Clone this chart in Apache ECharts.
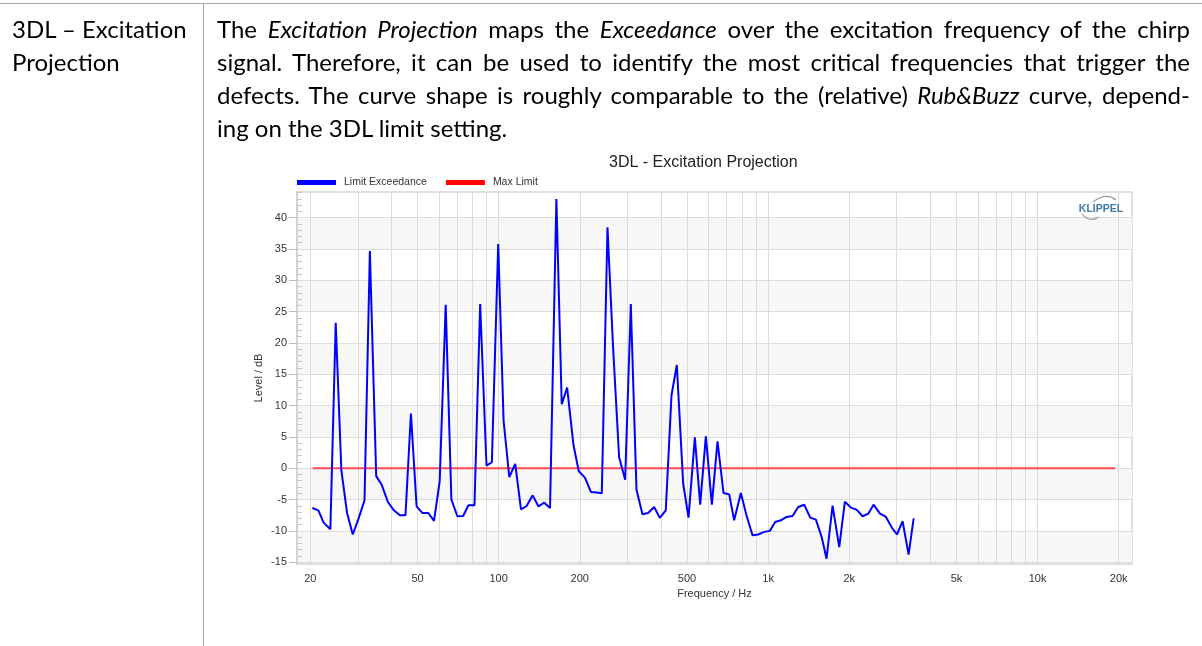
<!DOCTYPE html>
<html><head><meta charset="utf-8">
<script src="https://cdn.jsdelivr.net/npm/echarts@6/dist/echarts.min.js"></script>
<style>
html,body{margin:0;padding:0;background:#fff;}
body{width:1202px;height:646px;position:relative;overflow:hidden;}
#chart{position:absolute;left:0;top:0;width:1202px;height:646px;}
.rule{position:absolute;background:#a8a8a8;z-index:2;}
.doc{position:absolute;z-index:2;font-family:Lato,'Open Sans',sans-serif;font-size:24px;line-height:33px;color:#000;}
.jl{text-align:justify;text-align-last:justify;}
</style></head>
<body>
<div id="chart"></div>
<div class="rule" style="left:0;top:3px;width:1202px;height:1px"></div>
<div class="rule" style="left:203px;top:3px;width:1px;height:643px"></div>
<div class="doc" style="left:12px;top:12px;">3DL – Excitation<br>Projection</div>
<div class="doc" style="left:217px;top:12px;width:973px;">
<div class="jl">The <i>Excitation Projection</i> maps the <i>Exceedance</i> over the excitation frequency of the chirp</div>
<div class="jl">signal. Therefore, it can be used to identify the most critical frequencies that trigger the</div>
<div class="jl">defects. The curve shape is roughly comparable to the (relative) <i>Rub&amp;Buzz</i> curve, depend-</div>
<div>ing on the 3DL limit setting.</div>
</div>
<script>
// ---- data ----
const freqHz = [20.35, 21.42, 22.42, 23.74, 24.85, 26.08, 27.38, 28.75, 30.26, 31.78,
  33.27, 35.12, 36.76, 38.81, 40.85, 43.0, 45.1, 47.25, 49.6, 52.07,
  54.83, 57.55, 60.41, 63.6, 66.77, 70.29, 73.8, 77.24, 81.33, 85.37,
  90.12, 94.34, 99.62, 104.3, 109.5, 115.2, 121.0, 127.0, 133.7, 140.4,
  147.7, 155.1, 163.75, 171.4, 179.5, 189.5, 198.3, 209, 219.9, 230.6,
  241.4, 253.4, 265.9, 279.9, 294.7, 309.3, 324.7, 341.7, 358.7, 377.6,
  396.3, 417, 437.9, 458.3, 483.9, 506.4, 534.6, 559.5, 587.2, 618.2,
  648.8, 683, 717, 748, 792, 831, 875, 918.6, 966.8, 1014.7,
  1062, 1115, 1170, 1232, 1293, 1361, 1433, 1504, 1579, 1647,
  1734, 1836, 1927, 2029, 2129, 2241, 2353, 2462, 2600, 2737,
  2881, 3006, 3155, 3321, 3467];
const levelDb = [-6.36, -6.73, -8.69, -9.75, 23.2, -0.37, -7.15, -10.59, -7.94, -5.14,
  34.69, -1.27, -2.6, -5.4, -6.73, -7.52, -7.52, 8.74, -6.09, -7.15,
  -7.15, -8.42, -2.12, 26.11, -5.03, -7.68, -7.63, -5.93, -5.93, 26.22,
  0.42, 0.95, 35.8, 7.57, -1.43, 0.69, -6.57, -6.04, -4.34, -6.09,
  -5.51, -6.36, 42.96, 10.2, 12.87, 3.7, -0.5, -1.5, -3.8, -3.9,
  -4.0, 38.45, 19.2, 1.75, -1.85, 26.2, -3.44, -7.36, -7.15, -6.2,
  -7.94, -6.73, 11.65, 16.47, -2.49, -7.89, 4.93, -5.83, 5.08, -5.83,
  4.29, -3.97, -4.18, -8.32, -3.97, -7.52, -10.7, -10.59, -10.17, -10.01,
  -8.58, -8.32, -7.79, -7.63, -6.2, -5.83, -7.89, -8.21, -10.96, -14.45,
  -5.99, -12.6, -5.35, -6.3, -6.62, -7.68, -7.26, -5.83, -7.26, -7.79,
  -9.53, -10.59, -8.47, -13.8, -8.0];
const limitHz = [20.4, 19400];
const limitDb = [0, 0];
const xLabelHz = [20, 50, 100, 200, 500, 1000, 2000, 5000, 10000, 20000];
const xLabelText = ['20', '50', '100', '200', '500', '1k', '2k', '5k', '10k', '20k'];
const xGridHz = [20, 30, 40, 50, 60, 70, 80, 90, 100, 200, 300, 400, 500, 600, 700, 800, 900,
  1000, 2000, 3000, 4000, 5000, 6000, 7000, 8000, 9000, 10000, 20000];
const yTicks = [-15, -10, -5, 0, 5, 10, 15, 20, 25, 30, 35, 40];
const xRangeHz = [17.85, 22400];
const yRange = [-15.3, 44.1];

// ---- chart ----
const yMinor = [];
for (let v = Math.ceil(yRange[0]); v <= Math.floor(yRange[1]); v++) if (v % 5 !== 0) yMinor.push(v);
const FONT = 'Liberation Sans, Arial, sans-serif';
const lg = Math.log10;
function xLabel(v) {
  const hz = Math.pow(10, v);
  const i = xLabelHz.findIndex(h => Math.abs(h - hz) / h < 1e-6);
  return i >= 0 ? xLabelText[i] : '';
}
const chart = echarts.init(document.getElementById('chart'), null, {renderer: 'canvas'});
chart.setOption({
  animation: false,
  title: {text: '3DL - Excitation Projection', left: 604, top: 150,
    textStyle: {fontSize: 16, fontWeight: 'normal', color: '#222', fontFamily: FONT}},
  legend: {left: 292, top: 172, icon: 'rect', itemWidth: 39, itemHeight: 5, itemGap: 19,
    textStyle: {fontSize: 10.5, color: '#333', fontFamily: FONT, padding: [0, 0, 0, 3]},
    data: ['Limit Exceedance', 'Max Limit']},
  grid: {left: 297, top: 192, right: 70, bottom: 82, show: true, borderColor: '#d6d6d6', borderWidth: 1.5, containLabel: false},
  xAxis: {type: 'value', min: lg(xRangeHz[0]), max: lg(xRangeHz[1]),
    name: 'Frequency / Hz', nameLocation: 'middle', nameGap: 24, nameMoveOverlap: false,
    nameTextStyle: {fontSize: 11, color: '#333', fontFamily: FONT},
    axisLine: {show: false},
    axisTick: {show: false, customValues: xGridHz.map(lg)},
    axisLabel: {customValues: xLabelHz.map(lg), formatter: xLabel, fontSize: 11, color: '#333', fontFamily: FONT, margin: 9},
    splitLine: {show: true, lineStyle: {color: '#dcdcdc', width: 1}}},
  yAxis: [{type: 'value', min: yRange[0], max: yRange[1],
    name: 'Level / dB', nameLocation: 'middle', nameGap: 33, nameMoveOverlap: false,
    nameTextStyle: {fontSize: 11, color: '#333', fontFamily: FONT},
    axisLine: {show: true, lineStyle: {color: '#cfcfcf', width: 1.5}},
    axisTick: {show: true, length: 8, customValues: yTicks, lineStyle: {color: '#bdbdbd'}},
    axisLabel: {customValues: yTicks, fontSize: 11, color: '#333', fontFamily: FONT, margin: 10},
    splitLine: {show: true, lineStyle: {color: '#dcdcdc', width: 1}},
    splitArea: {show: true, areaStyle: {color: ['#f7f7f7', 'rgba(255,255,255,0)']}}},
   {type: 'value', min: yRange[0], max: yRange[1], position: 'left',
    axisLine: {show: false}, axisLabel: {show: false}, splitLine: {show: false},
    axisTick: {show: true, inside: true, length: 5, customValues: yMinor, lineStyle: {color: '#c4c4c4'}}}],
  series: [
    {name: 'Limit Exceedance', type: 'line', z: 3, symbol: 'none',
     data: freqHz.map((f, i) => [lg(f), levelDb[i]]),
     lineStyle: {color: '#0000ff', width: 2}, itemStyle: {color: '#0000ff'}},
    {name: 'Max Limit', type: 'line', z: 2, symbol: 'none',
     data: limitHz.map((f, i) => [lg(f), limitDb[i]]),
     lineStyle: {color: '#ff4a4a', width: 2}, itemStyle: {color: '#ff0000'}}
  ],
  graphic: [
    {type: 'text', x: 1101, y: 209, z: 10, style: {text: 'KLIPPEL', fill: '#3f7bab', align: 'center', verticalAlign: 'middle',
      font: 'bold 10.5px Liberation Sans, Arial, sans-serif'}},
    {type: 'bezierCurve', z: 10, shape: {x1: 1093, y1: 202, cpx1: 1106, cpy1: 192, x2: 1116, y2: 200},
      style: {stroke: '#9a9a9a', lineWidth: 1.2, fill: null}},
    {type: 'bezierCurve', z: 10, shape: {x1: 1082, y1: 214, cpx1: 1089, cpy1: 223, x2: 1099, y2: 217},
      style: {stroke: '#9a9a9a', lineWidth: 1.2, fill: null}}
  ]
});
</script>
</body></html>
